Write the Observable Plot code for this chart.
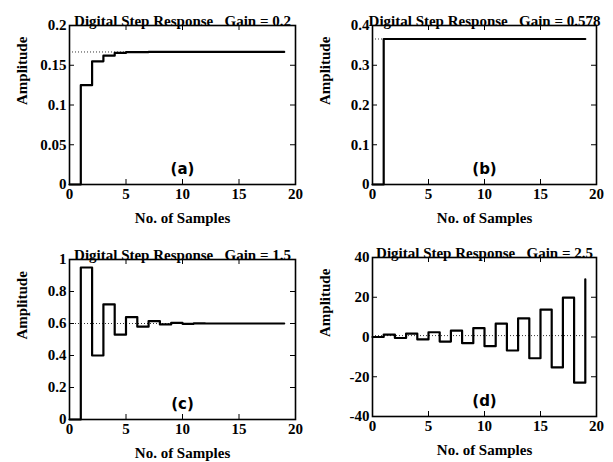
<!DOCTYPE html>
<html><head><meta charset="utf-8">
<script src="https://cdn.jsdelivr.net/npm/d3@7"></script>
<script src="https://cdn.jsdelivr.net/npm/@observablehq/plot@0.6"></script>
<style>
body{margin:0;background:#fff;}
#wrap{position:relative;width:613px;height:462px;overflow:hidden;background:#fff;}
#wrap svg{position:absolute;}
#wrap svg text{white-space:pre;}
</style></head><body><div id="wrap"></div>
<script>
// ---- data ----
const samples = [0,1,2,3,4,5,6,7,8,9,10,11,12,13,14,15,16,17,18,19];
const gains = ["0.2","0.578","1.5","2.5"];
const panelLabels = ["(a)","(b)","(c)","(d)"];
const respA = [0,0.125,0.155,0.162,0.1655,0.1664,0.1666,0.1667,0.1667,0.1667,0.1667,0.1667,0.1667,0.1667,0.1667,0.1667,0.1667,0.1667,0.1667,0.1667];
const respB = [0,0.366,0.366,0.366,0.366,0.366,0.366,0.366,0.366,0.366,0.366,0.366,0.366,0.366,0.366,0.366,0.366,0.366,0.366,0.366];
const respC = [0,0.95,0.40,0.72,0.53,0.64,0.58,0.615,0.594,0.604,0.598,0.601,0.6,0.6,0.6,0.6,0.6,0.6,0.6,0.6];
const respD = [0,1.2,-0.5,1.7,-1.2,2.4,-2.3,3.2,-3.1,4.5,-4.6,6.7,-6.8,9.4,-10.7,13.8,-15.3,19.8,-23,29];
const finalValues = [0.1667,0.366,0.6,0.7];
const xTicks = [0,5,10,15,20];
const yTicksA = [0,0.05,0.1,0.15,0.2];
const yTicksB = [0,0.1,0.2,0.3,0.4];
const yTicksC = [0,0.2,0.4,0.6,0.8,1];
const yTicksD = [-40,-20,0,20,40];
const titleText = "Digital Step Response";
const xLabel = "No. of Samples";
const yLabel = "Amplitude";

const responses = [respA,respB,respC,respD];
const yTicksAll = [yTicksA,yTicksB,yTicksC,yTicksD];

// ---- layout ----
const boxes = [
  {left:0,   top:0,   width:306, height:231, ml:69, mr:11, mt:25, mb:47},
  {left:306, top:0,   width:307, height:231, ml:66, mr:17, mt:25, mb:47},
  {left:0,   top:231, width:306, height:231, ml:69, mr:11, mt:28, mb:43},
  {left:306, top:231, width:307, height:231, ml:66, mr:17, mt:26, mb:46}
];

const wrap = document.getElementById("wrap");
const serif = "'Liberation Serif', 'Times New Roman', serif";
const sans = "'DejaVu Sans', sans-serif";

boxes.forEach((b, i) => {
  const resp = responses[i];
  const yt = yTicksAll[i];
  const W = b.width - b.ml - b.mr;
  const H = b.height - b.mt - b.mb;
  const pts = samples.map((s, k) => ({x: s, y: resp[k]}));
  const tk = 5;
  const chart = Plot.plot({
    width: b.width, height: b.height,
    marginLeft: b.ml, marginRight: b.mr, marginTop: b.mt, marginBottom: b.mb,
    style: {fontFamily: serif, fontWeight: "bold", fontSize: "15px", background: "transparent", color: "black"},
    x: {domain: [xTicks[0], xTicks[xTicks.length-1]]},
    y: {domain: [yt[0], yt[yt.length-1]]},
    marks: [
      Plot.axisX(xTicks, {tickSize: 0, tickPadding: 4, label: null, tickFormat: d => String(d), fontSize: 15}),
      Plot.axisY(yt, {tickSize: 0, tickPadding: 3, label: null, tickFormat: d => String(d), fontSize: 15}),
      Plot.tickX(xTicks, {x: d => d, insetTop: H - tk, stroke: "black"}),
      Plot.tickX(xTicks, {x: d => d, insetBottom: H - tk, stroke: "black"}),
      Plot.tickY(yt, {y: d => d, insetRight: W - tk, stroke: "black"}),
      Plot.tickY(yt, {y: d => d, insetLeft: W - tk, stroke: "black"}),
      Plot.ruleY([finalValues[i]], {x1: samples[0], x2: samples[samples.length-1], stroke: "black", strokeWidth: 0.8, strokeDasharray: "1,2"}),
      Plot.line(pts, {x: "x", y: "y", curve: "step-after", stroke: "black", strokeWidth: 2.2}),
      Plot.frame({stroke: "black", strokeWidth: 1.6}),
      Plot.text([`${titleText}   Gain = ${gains[i]}`], {frameAnchor: "top", lineAnchor: "bottom", dy: 0, fontSize: 15}),
      Plot.text([panelLabels[i]], {frameAnchor: "bottom", lineAnchor: "bottom", dy: -11, fontSize: 15}),
      Plot.text([xLabel], {frameAnchor: "bottom", lineAnchor: "middle", dy: 34, fontSize: 15}),
      Plot.text([yLabel], {frameAnchor: "left", rotate: -90, dx: -47, fontSize: 15})
    ]
  });
  // force fonts on every text element
  d3.select(chart).selectAll("text").each(function() {
    const isPanel = this.textContent === panelLabels[i];
    this.style.fontFamily = isPanel ? sans : serif;
    this.style.fontWeight = "bold";
  });
  chart.style.left = b.left + "px";
  chart.style.top = b.top + "px";
  wrap.appendChild(chart);
});
</script>
</body></html>
